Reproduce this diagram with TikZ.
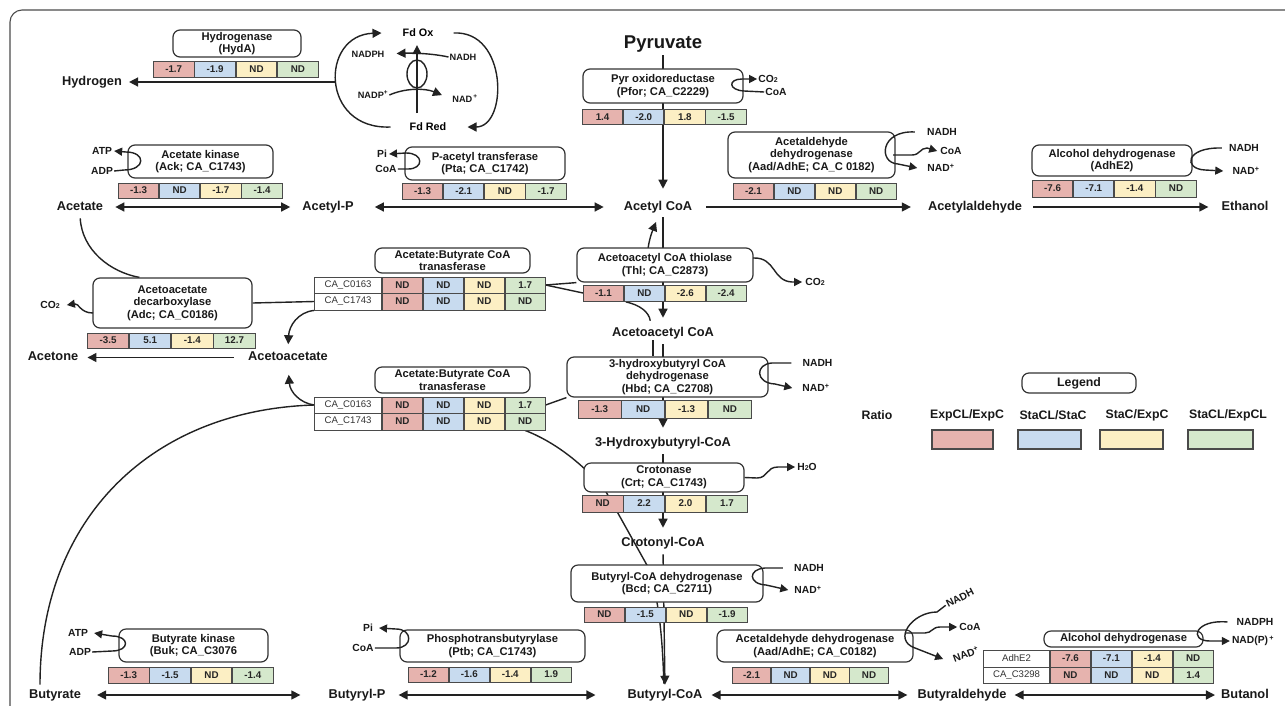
\documentclass[tikz,border=0pt]{standalone}
\usepackage{fontspec}
\setmainfont{Liberation Sans}
\usetikzlibrary{arrows.meta}
\pgfdeclarelayer{back}
\pgfdeclarelayer{bg}
\pgfsetlayers{back,bg,main}
\definecolor{cR}{HTML}{E6B3AE}
\definecolor{cB}{HTML}{C8DBEF}
\definecolor{cY}{HTML}{FCEFC4}
\definecolor{cG}{HTML}{D5E8CC}
\definecolor{lc}{HTML}{222222}
\definecolor{boxc}{HTML}{333333}
\definecolor{cc}{HTML}{4A4A4A}
\newcommand{\fmet}{\fontsize{12.8}{15}\selectfont\bfseries}
\newcommand{\fenz}{\fontsize{11.2}{12.6}\selectfont\bfseries}
\newcommand{\fcell}{\fontsize{9.8}{11}\selectfont\bfseries}
\newcommand{\fcof}{\fontsize{10.3}{12}\selectfont\bfseries}
\newcommand{\fsml}{\fontsize{9.2}{11}\selectfont\bfseries}
\newcommand{\ffd}{\fontsize{10.8}{12}\selectfont\bfseries}
\newcommand{\flab}{\fontsize{9.6}{11}\selectfont}
\newcommand{\fleg}{\fontsize{12.3}{14}\selectfont\bfseries}
\newcommand{\subtwo}{{\fontsize{7}{7}\selectfont 2}}
\newcommand{\cellrowx}[9]{%
 \node[cell,fill=cR,minimum width=#4pt,minimum height=#5pt,anchor=west] (#1a) at (#2,#3) {#6};
 \node[cell,fill=cB,minimum width=#4pt,minimum height=#5pt,anchor=west] (#1b) at (#1a.east) {#7};
 \node[cell,fill=cY,minimum width=#4pt,minimum height=#5pt,anchor=west] (#1c) at (#1b.east) {#8};
 \node[cell,fill=cG,minimum width=#4pt,minimum height=#5pt,anchor=west] (#1d) at (#1c.east) {#9};
}
\begin{document}
\begin{tikzpicture}[x=1pt,y=-1pt,
 box/.style={draw=boxc,line width=1.2pt,rounded corners=7pt,fill=white,align=center,font=\fenz,inner sep=1pt,text=black!90},
 cell/.style={draw=cc,line width=0.9pt,font=\fcell,inner sep=0pt,text=black!85},
 lcell/.style={draw=cc,line width=0.9pt,font=\flab,inner sep=0pt,fill=white,text=black!80},
 met/.style={font=\fmet,inner sep=1pt,text height=9.5pt,text depth=2.7pt,text=black!90},
 cof/.style={font=\fcof,inner sep=1pt,text=black!90},
 sml/.style={font=\fsml,inner sep=1pt,text=black!90},
 leg/.style={font=\fleg,inner sep=1pt,text=black!90},
 ln/.style={draw=lc,line width=1.4pt},
 arr/.style={ln,-{Triangle[length=9pt,width=9pt]}},
 arrs/.style={ln,-{Triangle[length=8pt,width=8pt]}},
 dbl/.style={ln,{Triangle[length=9pt,width=9pt]}-{Triangle[length=9pt,width=9pt]}},
 swatch/.style={draw=cc,line width=1.2pt,minimum height=19pt,inner sep=0pt},
]
\useasboundingbox (0,0) rectangle (1285,705);
\begin{pgfonlayer}{back}
\fill[white] (0,0) rectangle (1285,705);
\draw[draw=black!70,line width=1.1pt,rounded corners=12pt] (10,706) -- (10,10) -- (1286,10);
\end{pgfonlayer}

% ---------- metabolites ----------
\node[met,font=\fontsize{18.5}{21}\selectfont\bfseries,text height=14pt,text depth=4pt] (pyr) at (663,43) {Pyruvate};
\node[met] (hyd) at (92,82) {Hydrogen};
\node[met] (ac) at (80,207) {Acetate};
\node[met] (acp) at (328,207) {Acetyl-P};
\node[met] (accoa) at (658,207) {Acetyl CoA};
\node[met] (acald) at (975,207) {Acetylaldehyde};
\node[met] (etoh) at (1245,207) {Ethanol};
\node[met] (acetone) at (53,357.5) {Acetone};
\node[met] (acac) at (288,357.5) {Acetoacetate};
\node[met] (acaccoa) at (663,333) {Acetoacetyl CoA};
\node[met] (hbcoa) at (663,443) {3-Hydroxybutyryl-CoA};
\node[met] (crcoa) at (663,543) {Crotonyl-CoA};
\node[met] (but) at (55,695) {Butyrate};
\node[met] (butp) at (357,695) {Butyryl-P};
\node[met] (bcoa) at (665,695) {Butyryl-CoA};
\node[met] (bald) at (962,695) {Butyraldehyde};
\node[met] (btoh) at (1245,695) {Butanol};

% ---------- enzyme boxes ----------
\node[box,minimum width=128pt,minimum height=27pt] (hyda) at (237,43.5) {Hydrogenase\\(HydA)};
\node[box,minimum width=145pt,minimum height=33pt] (ack) at (200.5,161.5) {Acetate kinase\\(Ack; CA\_C1743)};
\node[box,minimum width=160pt,minimum height=33pt] (pta) at (485,163.5) {P-acetyl transferase\\(Pta; CA\_C1742)};
\node[box,minimum width=160pt,minimum height=34pt] (pfor) at (663,86) {Pyr oxidoreductase\\(Pfor; CA\_C2229)};
\node[box,minimum width=167pt,minimum height=46pt] (aad1) at (811.5,155) {Acetaldehyde\\dehydrogenase\\(Aad/AdhE; CA\_C 0182)};
\node[box,minimum width=160pt,minimum height=31pt] (adh1) at (1112,160.5) {Alcohol dehydrogenase\\(AdhE2)};
\node[box,minimum width=159pt,minimum height=50pt] (adc) at (172.5,303) {Acetoacetate\\decarboxylase\\(Adc; CA\_C0186)};
\node[box,minimum width=155pt,minimum height=25pt] (abct1) at (452.5,260.5) {Acetate:Butyrate CoA\\tranasferase};
\node[box,minimum width=176pt,minimum height=34pt] (thl) at (665,265) {Acetoacetyl CoA thiolase\\(Thl; CA\_C2873)};
\node[box,minimum width=155pt,minimum height=26pt] (abct2) at (452.5,380) {Acetate:Butyrate CoA\\tranasferase};
\node[box,minimum width=201pt,minimum height=40pt] (hbd) at (667.5,377) {3-hydroxybutyryl CoA\\dehydrogenase\\(Hbd; CA\_C2708)};
\node[box,minimum width=160pt,minimum height=29pt] (crt) at (664,477.5) {Crotonase\\(Crt; CA\_C1743)};
\node[box,minimum width=192pt,minimum height=37pt] (bcd) at (667,583.5) {Butyryl-CoA dehydrogenase\\(Bcd; CA\_C2711)};
\node[box,minimum width=149pt,minimum height=33pt] (buk) at (193.5,645.5) {Butyrate kinase\\(Buk; CA\_C3076};
\node[box,minimum width=185pt,minimum height=32pt] (ptb) at (492.5,646) {Phosphotransbutyrylase\\(Ptb; CA\_C1743)};
\node[box,minimum width=196pt,minimum height=32pt] (aad2) at (815,646) {Acetaldehyde dehydrogenase\\(Aad/AdhE; CA\_C0182)};
\node[box,minimum width=159pt,minimum height=16pt] (adh2) at (1123.5,639) {Alcohol dehydrogenase};
\node[box,minimum width=114pt,minimum height=20pt,font=\fleg] (legend) at (1079,383) {Legend};

% ---------- value cells ----------
\cellrowx{xhy}{153}{69}{40.5}{16}{-1.7}{-1.9}{ND}{ND}
\cellrowx{xak}{118}{190.5}{40.25}{15}{-1.3}{ND}{-1.7}{-1.4}
\cellrowx{xpt}{402}{191.5}{40.25}{16}{-1.3}{-2.1}{ND}{-1.7}
\cellrowx{xpf}{582}{117}{40.25}{15}{1.4}{-2.0}{1.8}{-1.5}
\cellrowx{xaa}{733}{191}{40}{16}{-2.1}{ND}{ND}{ND}
\cellrowx{xah}{1032}{188.5}{40.25}{17}{-7.6}{-7.1}{-1.4}{ND}
\cellrowx{xad}{87}{340.5}{41.25}{15}{-3.5}{5.1}{-1.4}{12.7}
\cellrowx{xba}{382}{285}{40}{16}{ND}{ND}{ND}{1.7}
\cellrowx{xbb}{382}{301.5}{40}{17}{ND}{ND}{ND}{ND}
\node[lcell,minimum width=67pt,minimum height=16pt,anchor=east] (xbal) at (xbaa.west) {CA\_C0163};
\node[lcell,minimum width=67pt,minimum height=17pt,anchor=east] (xbbl) at (xbba.west) {CA\_C1743};
\cellrowx{xth}{583}{293}{40}{16}{-1.1}{ND}{-2.6}{-2.4}
\cellrowx{xbc}{382}{405}{40}{16}{ND}{ND}{ND}{1.7}
\cellrowx{xbd}{382}{421.5}{40}{17}{ND}{ND}{ND}{ND}
\node[lcell,minimum width=67pt,minimum height=16pt,anchor=east] (xbcl) at (xbca.west) {CA\_C0163};
\node[lcell,minimum width=67pt,minimum height=17pt,anchor=east] (xbdl) at (xbda.west) {CA\_C1743};
\cellrowx{xhb}{578}{409}{42.5}{18}{-1.3}{ND}{-1.3}{ND}
\cellrowx{xcr}{582}{503.5}{40.5}{17}{ND}{2.2}{2.0}{1.7}
\cellrowx{xbo}{584}{614.5}{40}{15}{ND}{-1.5}{ND}{-1.9}
\cellrowx{xbk}{108}{675}{40.5}{16}{-1.3}{-1.5}{ND}{-1.4}
\cellrowx{xpb}{408}{674.5}{40}{15}{-1.2}{-1.6}{-1.4}{1.9}
\cellrowx{xae}{732}{675}{38.25}{16}{-2.1}{ND}{ND}{ND}
\cellrowx{xha}{1050}{658.5}{40}{17}{-7.6}{-7.1}{-1.4}{ND}
\cellrowx{xhc}{1050}{675}{40}{16}{ND}{ND}{ND}{1.4}
\node[lcell,minimum width=66pt,minimum height=17pt,anchor=east] (xhal) at (xhaa.west) {AdhE2};
\node[lcell,minimum width=66pt,minimum height=16pt,anchor=east] (xhcl) at (xhca.west) {CA\_C3298};

% ---------- pathway connectors (behind boxes) ----------
\begin{pgfonlayer}{bg}
\draw[arr,shorten <=2pt,shorten >=11pt] (pyr.south) -- (pyr.south |- accoa.north);
\draw[arr,shorten <=3pt,shorten >=8pt] (accoa.south -| acaccoa.north) -- (acaccoa.north);
\coordinate (thlup) at (648,249);
\coordinate (accin) at (656,222);
\draw[arr] (thlup) .. controls (649,240) and (652,232) .. (accin);
\draw[arr,shorten <=4pt,shorten >=8pt] (acaccoa.south) -- (hbcoa.north);
\draw[arr,shorten <=4pt,shorten >=8pt] (hbcoa.south) -- (crcoa.north);
\draw[arr,shorten <=4pt,shorten >=3pt] (crcoa.south) -- (bcoa.north);
\draw[ln] ([xshift=-10pt]acaccoa.south) -- ([xshift=-10pt]acaccoa.south |- hbd.north);
\draw[arr,shorten <=13pt,shorten >=16pt] (accoa.east) -- (acald.west);
\draw[arr,shorten <=10pt,shorten >=12pt] (acald.east) -- (etoh.west);
\draw[dbl,shorten <=11pt,shorten >=11pt] (ac.east) -- (acp.west);
\draw[dbl,shorten <=20pt,shorten >=19pt] (acp.east) -- (accoa.west);
\draw[arr,shorten <=13pt,shorten >=8pt] (acac.west) -- (acetone.east);
\draw[dbl,shorten <=15pt,shorten >=27pt] (but.east) -- (butp.west);
\draw[dbl,shorten <=12pt,shorten >=31pt] (butp.east) -- (bcoa.west);
\draw[dbl,shorten <=8pt,shorten >=9pt] (bcoa.east) -- (bald.west);
\draw[dbl,shorten <=7pt,shorten >=5pt] (bald.east) -- (btoh.west);
\coordinate (h2s) at (336,82);
\draw[arr,shorten >=6pt] (h2s) -- (hyd.east);
\draw[ln,shorten <=4pt] (ac.south) .. controls (82,250) and (110,272) .. ([xshift=47pt]adc.north west);
\draw[ln] (adc.east) -- (xbbl.west);
\draw[arr,shorten >=6pt] (xbbl.south west) .. controls (298,312) and (289,326) .. (acac.north);
\draw[arr,shorten >=10pt] (xbcl.west) .. controls (300,403) and (290,392) .. (acac.south);
\draw[ln,shorten <=3pt] ([xshift=-15pt]but.north) .. controls (40,520) and (150,410) .. (xbcl.west);
\draw[ln] (xbad.east) -- (thl.south west);
\draw[ln] (xbad.east) -- (xtha.west);
\draw[ln,shorten <=2pt,shorten >=5pt] (xtha.south east) .. controls (640,305) and (649,312) .. ([xshift=-12pt]acaccoa.north);
\draw[ln] (xbcd.east) -- (hbd.south west);
\draw[ln,shorten >=4pt] (xbdd.south) .. controls (545,438) and (575,455) .. (605,490) -- (648,567) .. controls (656,590) and (662,620) .. ([xshift=-1pt]bcoa.north);
\end{pgfonlayer}

% ---------- ferredoxin cycle ----------
\node[font=\ffd,inner sep=1pt] (fdox) at (418,33) {Fd Ox};
\node[font=\ffd,inner sep=1pt] (fdred) at (428,127) {Fd Red};
\node[sml] (nadph) at (368,54) {NADPH};
\node[sml] (nadh0) at (463,57) {NADH};
\node[sml] (nadp0) at (373,95) {NADP\textsuperscript{+}};
\node[sml] (nad0) at (465,99) {NAD\textsuperscript{\,+}};
\coordinate (fdb) at (417,113);
\draw[arr,shorten >=7pt] (fdb) -- (fdb |- fdox.south);
\draw[ln] (417,74) ellipse [x radius=10pt, y radius=14pt];
\draw[arr,shorten >=11pt] (nadh0.west) .. controls (430,53) and (410,53) .. (nadph.east);
\draw[arr,shorten >=10pt] (nadp0.east) .. controls (405,88) and (425,88) .. (nad0.west);
\draw[arr] ([xshift=-18pt]fdred.west) .. controls (320,130) and (320,35) .. ([xshift=-20pt]fdox.west);
\draw[arr] ([xshift=19pt]fdox.east) .. controls (508,30) and (508,127) .. ([xshift=20pt]fdred.east);

% ---------- cofactor loops ----------
\node[cof] (atp1) at (102,151) {ATP};
\node[cof] (adp1) at (102,171) {ADP};
\draw[arrs] (adp1.east) -- (124,170) .. controls (146,170) and (146,152) .. (126,152) -- ([xshift=1pt]atp1.east);
\node[cof] (pi1) at (382,154) {Pi};
\node[cof] (coa1) at (386,169) {CoA};
\draw[arrs] (coa1.east) -- (408,169) .. controls (424,169) and (424,153) .. (406,153) -- ([xshift=1pt]pi1.east);
\node[cof] (co2a) at (768,79) {CO\subtwo};
\node[cof] (coa2) at (776,92) {CoA};
\draw[arrs] (coa2.west) -- (744,91) .. controls (728,90) and (728,79) .. (742,79) -- (co2a.west);
\node[cof] (nadh2) at (942,132) {NADH};
\node[cof] (coa3) at (951,151) {CoA};
\node[cof] (nad2) at (941,168) {NAD\textsuperscript{+}};
\draw[arrs] ([xshift=-11pt]nadh2.west) .. controls (880,130) and (878,163) .. (898,164) -- ([xshift=-9pt]nad2.west);
\coordinate (aadk) at (893,155);
\draw[arrs] (aadk) -- (912,155) .. controls (920,155) and (920,148) .. (927,148) -- ([xshift=-2pt]coa3.west);
\node[cof] (nadh3) at (1244,148) {NADH};
\node[cof] (nad3) at (1246,171) {NAD\textsuperscript{+}};
\draw[arrs] ([xshift=-6pt]nadh3.west) .. controls (1185,147) and (1183,169) .. (1205,170) -- ([xshift=-8pt]nad3.west);
\node[cof] (co2b) at (50,305) {CO\subtwo};
\coordinate (adcw) at (93,313);
\draw[arrs] (adcw) .. controls (80,313) and (79,303) .. ([xshift=6pt]co2b.east);
\node[cof] (co2c) at (815,282) {CO\subtwo};
\coordinate (thle) at (753,258);
\draw[arrs] (thle) .. controls (776,257) and (772,281) .. (792,282) -- ([xshift=-2pt]co2c.west);
\node[cof] (nadh4) at (817.5,363) {NADH};
\node[cof] (nad4) at (816,388) {NAD\textsuperscript{+}};
\draw[arrs] ([xshift=-10pt]nadh4.west) -- (772,363) .. controls (755,364) and (755,383) .. (775,384) -- ([xshift=-9pt]nad4.west);
\node[cof] (h2o) at (807,467) {H\subtwo O};
\draw[arrs] (crt.east) -- (757,478) .. controls (768,478) and (766,467) .. (778,467) -- ([xshift=-1pt]h2o.west);
\node[cof] (nadh5) at (809,568) {NADH};
\node[cof] (nad5) at (808,590) {NAD\textsuperscript{+}};
\draw[arrs] ([xshift=-10pt]nadh5.west) -- (765,568) .. controls (748,569) and (748,584) .. (766,585) -- ([xshift=-5pt]nad5.west);
\node[cof] (atp2) at (78,633) {ATP};
\node[cof] (adp2) at (80,652) {ADP};
\draw[arrs] (adp2.east) -- (112,651) .. controls (130,651) and (130,636) .. (112,636) -- ([xshift=5pt]atp2.east);
\node[cof] (pi2) at (368,628) {Pi};
\node[cof] (coa4) at (363,648) {CoA};
\draw[arrs] (coa4.east) -- (396,648) .. controls (413,648) and (413,629) .. (396,629) -- ([xshift=5pt]pi2.east);
\node[cof,rotate=27] (nadh6) at (960,598) {NADH};
\node[cof] (coa5) at (970,627) {CoA};
\node[cof,rotate=20] (nad6) at (966,654) {NAD\textsuperscript{+}};
\draw[arrs] (nadh6.west) -- (937,612) .. controls (912,612) and (892,640) .. (915,648) -- ([xshift=-9pt]nad6.west);
\coordinate (aadk2) at (906,633);
\draw[arrs] (aadk2) -- (925,633) .. controls (932,633) and (932,627) .. (940,627) -- ([xshift=-1pt]coa5.west);
\node[cof] (nadph2) at (1255,622) {NADPH};
\node[cof] (nadp2) at (1253,641) {NAD(P)\textsuperscript{\,+}};
\draw[arrs] ([xshift=-8pt]nadph2.west) .. controls (1195,619) and (1188,641) .. (1210,641) -- ([xshift=-1pt]nadp2.west);

% ---------- legend ----------
\node[leg] (ratio) at (877,415) {Ratio};
\node[leg] (l1) at (967,415) {ExpCL/ExpC};
\node[leg] (l2) at (1053,415) {StaCL/StaC};
\node[leg] (l3) at (1137,415) {StaC/ExpC};
\node[leg] (l4) at (1228,415) {StaCL/ExpCL};
\node[swatch,fill=cR,minimum width=61pt] (s1) at (962.5,439.5) {};
\node[swatch,fill=cB,minimum width=63pt] (s2) at (1049.5,439.5) {};
\node[swatch,fill=cY,minimum width=63pt] (s3) at (1131.5,439.5) {};
\node[swatch,fill=cG,minimum width=65pt] (s4) at (1220.5,439.5) {};
\end{tikzpicture}
\end{document}
